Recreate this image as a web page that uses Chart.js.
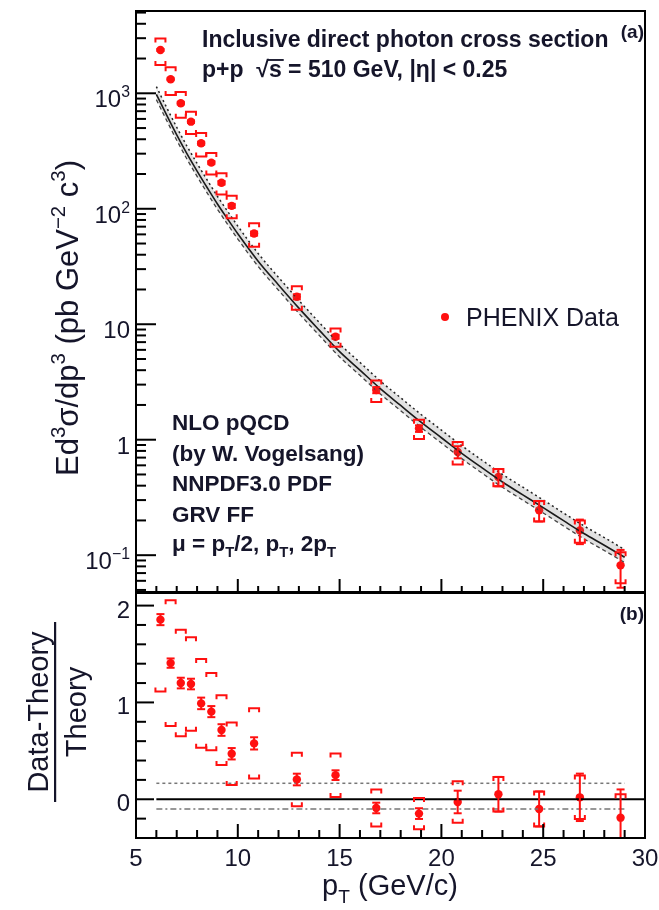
<!DOCTYPE html>
<html><head><meta charset="utf-8">
<script src="https://cdn.jsdelivr.net/npm/chart.js@4"></script>
<style>
html,body{margin:0;padding:0;background:#fff;}
#wrap{position:relative;width:659px;height:910px;overflow:hidden;background:#fff;}
canvas{position:absolute;left:0;}
</style></head><body>
<div id="wrap">
<canvas id="topc" width="659" height="600" style="top:0px"></canvas>
<canvas id="botc" width="659" height="330" style="top:580px"></canvas>
</div>
<script>
// ---------------- data ----------------
const pT      = [6.2, 6.7, 7.2, 7.7, 8.2, 8.7, 9.2, 9.7, 10.8, 12.9, 14.8, 16.8, 18.9, 20.8, 22.8, 24.8, 26.8, 28.8];
const xsec    = [2370, 1322, 819, 568, 369, 251, 168, 106, 61, 17.3, 7.8, 2.69, 1.25, 0.784, 0.476, 0.245, 0.164, 0.0817];
const ratio   = [1.855, 1.406, 1.20, 1.19, 0.99, 0.905, 0.715, 0.47, 0.577, 0.204, 0.249, -0.09, -0.148, -0.028, 0.052, -0.10, 0.02, -0.19];
const statRel = [0.02, 0.02, 0.025, 0.025, 0.03, 0.03, 0.035, 0.04, 0.04, 0.05, 0.04, 0.06, 0.065, 0.12, 0.17, 0.2, 0.24, 0.36];
const sysRel  = [0.26, 0.27, 0.25, 0.22, 0.23, 0.21, 0.21, 0.22, 0.23, 0.23, 0.18, 0.21, 0.19, 0.22, 0.17, 0.2, 0.22, 0.3];
const thPt    = [6, 6.5, 7, 7.5, 8, 8.5, 9, 9.5, 10, 11, 12, 13, 14, 15, 16, 17, 18, 19, 20, 21, 22, 23, 24, 25, 26, 27, 28, 29];
const thXsec  = [980, 649, 436, 300, 212, 152, 110, 81.5, 60.8, 35.2, 21.9, 13.8, 8.9, 5.79, 4.01, 2.77, 1.98, 1.42, 1.04, 0.762, 0.570, 0.430, 0.333, 0.258, 0.199, 0.154, 0.122, 0.096];
const muHalfRel = 0.165;   // mu = pT/2 relative to mu = pT
const muTwoRel  = -0.10;   // mu = 2pT relative to mu = pT
const xTicks = [5, 10, 15, 20, 25, 30];
const yTopMajor = [0.1, 1, 10, 100, 1000];
const yTopLabels = [['10','−1'], ['1',''], ['10',''], ['10','2'], ['10','3']];
const yBotTicks = [0, 1, 2];

const FONT = '"Liberation Sans", Arial, Helvetica, sans-serif';
const TXT = '#15152a';
const RED = '#ff1010';

function segW(ctx, segs, size, weight){
  let w = 0;
  for (const s of segs){
    const fs = (s.sup||s.sub) ? size*0.66 : size;
    ctx.font = `${weight} ${fs}px ${FONT}`;
    w += ctx.measureText(s.t).width;
  }
  return w;
}
function drawRich(ctx, segs, x, y, size, weight, align){
  const w = segW(ctx, segs, size, weight);
  let cx = align==='center' ? x - w/2 : align==='right' ? x - w : x;
  ctx.textAlign = 'left'; ctx.textBaseline = 'alphabetic';
  for (const s of segs){
    const fs = (s.sup||s.sub) ? size*0.66 : size;
    ctx.font = `${weight} ${fs}px ${FONT}`;
    const dy = s.sup ? -size*0.42 : s.sub ? size*0.28 : 0;
    ctx.fillText(s.t, cx, y + dy);
    const sw = ctx.measureText(s.t).width;
    if (s.over) ctx.fillRect(cx - 1, y - size*0.78, sw + 3, Math.max(1.5, size*0.08));
    cx += sw;
  }
}
function line(ctx, x1, y1, x2, y2){ ctx.beginPath(); ctx.moveTo(x1, y1); ctx.lineTo(x2, y2); ctx.stroke(); }

function drawErrors(chart, statAbs, sysAbs){
  const {ctx, chartArea:a, scales:{x, y}} = chart;
  ctx.save();
  ctx.beginPath(); ctx.rect(a.left, a.top, a.right - a.left, a.bottom - a.top); ctx.clip();
  ctx.strokeStyle = RED; ctx.lineWidth = 2;
  for (let i = 0; i < pT.length; i++){
    const px = x.getPixelForValue(pT[i]);
    const [sLo, sHi] = statAbs(i);
    const y1 = y.getPixelForValue(sHi), y2 = y.getPixelForValue(sLo);
    line(ctx, px, y1, px, y2);
    line(ctx, px - 4, y1, px + 4, y1);
    line(ctx, px - 4, y2, px + 4, y2);
    const [bLo, bHi] = sysAbs(i);
    const b1 = y.getPixelForValue(bHi), b2 = y.getPixelForValue(bLo);
    ctx.beginPath();
    ctx.moveTo(px - 5, b1 + 4); ctx.lineTo(px - 5, b1); ctx.lineTo(px + 5, b1); ctx.lineTo(px + 5, b1 + 4);
    ctx.moveTo(px - 5, b2 - 4); ctx.lineTo(px - 5, b2); ctx.lineTo(px + 5, b2); ctx.lineTo(px + 5, b2 - 4);
    ctx.stroke();
  }
  ctx.restore();
}

// ---------------- top panel ----------------
const topPlugin = {
  id: 'topDecor',
  afterDatasetsDraw(chart){
    drawErrors(chart,
      i => [xsec[i]*(1 - statRel[i]), xsec[i]*(1 + statRel[i])],
      i => [xsec[i]*(1 - sysRel[i]),  xsec[i]*(1 + sysRel[i])]);
  },
  afterDraw(chart){
    const {ctx, chartArea:a, scales:{x, y}} = chart;
    ctx.save();
    ctx.strokeStyle = '#000'; ctx.lineWidth = 2;
    ctx.strokeRect(a.left, a.top, a.right - a.left, a.bottom - a.top);
    for (let v = 5; v <= 30; v++){
      const px = x.getPixelForValue(v);
      line(ctx, px, a.bottom, px, a.bottom - (v % 5 === 0 ? 13 : 6));
    }
    for (let e = -2; e <= 3; e++){
      for (let k = 1; k <= 9; k++){
        const v = k * Math.pow(10, e);
        if (v < y.min || v > y.max) continue;
        const py = y.getPixelForValue(v);
        line(ctx, a.left, py, a.left + (k === 1 ? 20 : 10), py);
      }
    }
    ctx.fillStyle = TXT;
    yTopMajor.forEach((v, i) => {
      const py = y.getPixelForValue(v);
      const segs = [{t: yTopLabels[i][0]}];
      if (yTopLabels[i][1]) segs.push({t: yTopLabels[i][1], sup: true});
      drawRich(ctx, segs, 130, py + 14, 24, 'normal', 'right');
    });
    // y title
    ctx.save();
    ctx.translate(78, 318); ctx.rotate(-Math.PI/2);
    drawRich(ctx, [{t:'Ed'},{t:'3',sup:true},{t:'σ/dp'},{t:'3',sup:true},{t:' (pb GeV'},{t:'−2',sup:true},{t:' c'},{t:'3',sup:true},{t:')'}], 0, 0, 31, 'normal', 'center');
    ctx.restore();
    // annotations
    drawRich(ctx, [{t:'Inclusive direct photon cross section'}], 202, 47, 23, 'bold', 'left');
    drawRich(ctx, [{t:'(a)'}], 644, 38, 19, 'bold', 'right');
    drawRich(ctx, [{t:'p+p  √'},{t:'s', over:true},{t:' = 510 GeV, |η| < 0.25'}], 202, 77, 23, 'bold', 'left');
    const lines = [
      [{t:'NLO pQCD'}],
      [{t:'(by W. Vogelsang)'}],
      [{t:'NNPDF3.0 PDF'}],
      [{t:'GRV FF'}],
      [{t:'μ = p'},{t:'T',sub:true},{t:'/2, p'},{t:'T',sub:true},{t:', 2p'},{t:'T',sub:true}]
    ];
    const bl = [430, 461, 491, 522, 551];
    lines.forEach((s, i) => drawRich(ctx, s, 172, bl[i], 22.5, 'bold', 'left'));
    // legend
    ctx.fillStyle = RED;
    ctx.beginPath(); ctx.arc(445, 317, 4, 0, Math.PI*2); ctx.fill();
    ctx.fillStyle = TXT;
    drawRich(ctx, [{t:'PHENIX Data'}], 466, 326, 25, 'normal', 'left');
    ctx.restore();
  }
};

const thCentral = thPt.map((p, i) => ({x: p, y: thXsec[i]}));
const thHigh    = thPt.map((p, i) => ({x: p, y: thXsec[i]*(1 + muHalfRel)}));
const thLow     = thPt.map((p, i) => ({x: p, y: thXsec[i]*(1 + muTwoRel)}));

new Chart(document.getElementById('topc'), {
  type: 'scatter',
  data: { datasets: [
    { data: thLow, showLine: true, borderColor: '#444', borderWidth: 1.3, borderDash: [4, 3], pointRadius: 0, cubicInterpolationMode: 'monotone', fill: false },
    { data: thHigh, showLine: true, borderColor: '#222', borderWidth: 1.5, borderDash: [2, 3], pointRadius: 0, cubicInterpolationMode: 'monotone', fill: {target: 0}, backgroundColor: 'rgba(120,120,120,0.22)' },
    { data: thCentral, showLine: true, borderColor: '#000', borderWidth: 1.6, pointRadius: 0, cubicInterpolationMode: 'monotone', fill: false },
    { data: pT.map((p, i) => ({x: p, y: xsec[i]})), showLine: false, pointRadius: 4.2, pointBackgroundColor: RED, pointBorderWidth: 0, borderColor: RED }
  ]},
  options: {
    responsive: false, animation: false, devicePixelRatio: 1,
    layout: { padding: { left: 136, right: 14, top: 11, bottom: 8 } },
    plugins: { legend: { display: false }, tooltip: { enabled: false } },
    scales: {
      x: { type: 'linear', min: 5, max: 30, display: false },
      y: { type: 'logarithmic', min: 0.048, max: 5160, display: false }
    }
  },
  plugins: [topPlugin]
});

// ---------------- ratio panel ----------------
const botPlugin = {
  id: 'botDecor',
  afterDatasetsDraw(chart){
    drawErrors(chart,
      i => [ratio[i] - (1 + ratio[i])*statRel[i], ratio[i] + (1 + ratio[i])*statRel[i]],
      i => [ratio[i] - (1 + ratio[i])*sysRel[i],  ratio[i] + (1 + ratio[i])*sysRel[i]]);
  },
  afterDraw(chart){
    const {ctx, chartArea:a, scales:{x, y}} = chart;
    ctx.save();
    ctx.strokeStyle = '#000'; ctx.lineWidth = 2;
    ctx.strokeRect(a.left, a.top, a.right - a.left, a.bottom - a.top);
    for (let v = 5; v <= 30; v++){
      const px = x.getPixelForValue(v);
      line(ctx, px, a.bottom, px, a.bottom - (v % 5 === 0 ? 14 : 8));
    }
    for (let k = -2; k <= 10; k++){
      const v = k * 0.2;
      if (v < y.min || v > y.max) continue;
      const py = y.getPixelForValue(v);
      line(ctx, a.left, py, a.left + (k % 5 === 0 ? 18 : 10), py);
    }
    ctx.fillStyle = TXT;
    yBotTicks.forEach(v => drawRich(ctx, [{t: String(v)}], 130, y.getPixelForValue(v) + 12, 24, 'normal', 'right'));
    xTicks.forEach(v => drawRich(ctx, [{t: String(v)}], x.getPixelForValue(v), 286, 24, 'normal', 'center'));
    drawRich(ctx, [{t:'p'},{t:'T',sub:true},{t:' (GeV/c)'}], 390, 315, 29, 'normal', 'center');
    drawRich(ctx, [{t:'(b)'}], 644, 40, 19, 'bold', 'right');
    // fraction title
    ctx.save();
    ctx.translate(0, 132); ctx.rotate(-Math.PI/2);
    drawRich(ctx, [{t:'Data-Theory'}], 0, 48, 29, 'normal', 'center');
    drawRich(ctx, [{t:'Theory'}], 0, 86, 29, 'normal', 'center');
    ctx.fillRect(-90, 54, 180, 2.2);
    ctx.restore();
    ctx.restore();
  }
};

new Chart(document.getElementById('botc'), {
  type: 'scatter',
  data: { datasets: [
    { data: [{x: 6, y: muHalfRel}, {x: 29, y: muHalfRel}], showLine: true, borderColor: '#777', borderWidth: 1.5, borderDash: [3, 3], pointRadius: 0 },
    { data: [{x: 6, y: muTwoRel}, {x: 29, y: muTwoRel}], showLine: true, borderColor: '#777', borderWidth: 1.5, borderDash: [6, 3, 2, 3], pointRadius: 0 },
    { data: [{x: 6, y: 0}, {x: 30, y: 0}], showLine: true, borderColor: '#000', borderWidth: 2, pointRadius: 0 },
    { data: pT.map((p, i) => ({x: p, y: ratio[i]})), showLine: false, pointRadius: 4.2, pointBackgroundColor: RED, pointBorderWidth: 0, borderColor: RED }
  ]},
  options: {
    responsive: false, animation: false, devicePixelRatio: 1,
    layout: { padding: { left: 136, right: 14, top: 13, bottom: 72 } },
    plugins: { legend: { display: false }, tooltip: { enabled: false } },
    scales: {
      x: { type: 'linear', min: 5, max: 30, display: false },
      y: { type: 'linear', min: -0.4, max: 2.13, display: false }
    }
  },
  plugins: [botPlugin]
});
</script>
</body></html>
